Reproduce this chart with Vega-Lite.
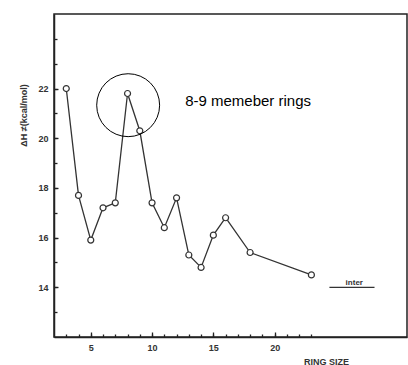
{
  "$schema": "https://vega.github.io/schema/vega-lite/v6.json",
  "width": 353,
  "height": 323,
  "autosize": "none",
  "padding": {"left": 54, "top": 14, "right": 1, "bottom": 28},
  "background": "white",
  "config": {
    "view": {"stroke": "#222", "strokeWidth": 1.5},
    "axis": {"grid": false, "domainColor": "#222", "domainWidth": 1.5, "tickColor": "#222", "tickWidth": 1.3,
      "labelFont": "Liberation Sans", "labelFontWeight": "bold", "labelFontSize": 9, "labelColor": "#333",
      "titleFont": "Liberation Sans", "titleFontWeight": "bold", "titleFontSize": 9, "titleColor": "#333"}
  },
  "resolve": {"axis": {"x": "independent", "y": "independent"}},
  "datasets": {
    "pts": [
      {"ring": 3, "dh": 22.0}, {"ring": 4, "dh": 17.7}, {"ring": 5, "dh": 15.9}, {"ring": 6, "dh": 17.2},
      {"ring": 7, "dh": 17.4}, {"ring": 8, "dh": 21.8}, {"ring": 9, "dh": 20.3}, {"ring": 10, "dh": 17.4},
      {"ring": 11, "dh": 16.4}, {"ring": 12, "dh": 17.6}, {"ring": 13, "dh": 15.3}, {"ring": 14, "dh": 14.8},
      {"ring": 15, "dh": 16.1}, {"ring": 16, "dh": 16.8}, {"ring": 18, "dh": 15.4}, {"ring": 23, "dh": 14.5}
    ]
  },
  "layer": [
    {
      "data": {"name": "pts"},
      "mark": {"type": "line", "color": "#333", "strokeWidth": 1.3},
      "encoding": {
        "x": {"field": "ring", "type": "quantitative", "scale": {"domain": [2, 30.8], "nice": false, "zero": false},
          "axis": {"orient": "bottom", "values": [5, 10, 15, 20], "ticks": false, "labelPadding": 6, "labelOverlap": false,
            "title": "RING SIZE", "titleX": 272, "titleY": 24, "titleBaseline": "middle", "titleAlign": "center"}},
        "y": {"field": "dh", "type": "quantitative", "scale": {"domain": [12, 25], "nice": false, "zero": false},
          "axis": {"orient": "left", "values": [14, 16, 18, 20, 22], "ticks": false, "labelPadding": 6, "labelOverlap": false,
            "title": "ΔH ≠(kcal/mol)", "titleX": -31, "titleY": 101, "titleAngle": -90, "titleBaseline": "middle", "titleAlign": "center"}}
      }
    },
    {
      "data": {"name": "pts"},
      "mark": {"type": "point", "shape": "circle", "filled": true, "fill": "white", "stroke": "#333", "strokeWidth": 1.2, "size": 36, "opacity": 1},
      "encoding": {
        "x": {"field": "ring", "type": "quantitative",
          "axis": {"orient": "top", "offset": -323, "values": [3,4,5,6,7,8,9,10,11,12,13,14,15,16,17,18,19,20,21,22,23], "tickSize": 3, "labels": false, "domain": false, "title": null}},
        "y": {"field": "dh", "type": "quantitative",
          "axis": {"orient": "right", "offset": -353, "values": [13,14,15,16,17,18,19,20,21,22,23,24], "tickSize": 3, "labels": false, "domain": false, "title": null}}
      }
    },
    {
      "data": {"values": [{}]},
      "mark": {"type": "point", "shape": "circle", "filled": false, "stroke": "black", "strokeWidth": 1, "size": 3960, "opacity": 1},
      "encoding": {
        "x": {"datum": 8.05, "type": "quantitative",
          "axis": {"orient": "top", "offset": -323, "values": [5, 10, 15, 20], "tickSize": 5, "labels": false, "domain": false, "title": null}},
        "y": {"datum": 21.33, "type": "quantitative",
          "axis": {"orient": "right", "offset": -353, "values": [14, 16, 18, 20, 22], "tickSize": 4, "labels": false, "domain": false, "title": null}}
      }
    },
    {
      "data": {"values": [{}]},
      "mark": {"type": "text", "text": "8-9 memeber rings", "font": "Liberation Sans", "fontSize": 15, "align": "left", "baseline": "middle", "color": "black"},
      "encoding": {"x": {"datum": 12.7, "type": "quantitative", "axis": null}, "y": {"datum": 21.5, "type": "quantitative", "axis": null}}
    },
    {
      "data": {"values": [{}]},
      "mark": {"type": "rule", "color": "#333", "strokeWidth": 1.3},
      "encoding": {"x": {"datum": 24.47, "type": "quantitative", "axis": null}, "x2": {"datum": 28.15}, "y": {"datum": 14, "type": "quantitative", "axis": null}}
    },
    {
      "data": {"values": [{}]},
      "mark": {"type": "text", "text": "inter", "font": "Liberation Sans", "fontWeight": "bold", "fontSize": 8, "align": "center", "baseline": "alphabetic", "color": "#333", "dy": -2},
      "encoding": {"x": {"datum": 26.5, "type": "quantitative", "axis": null}, "y": {"datum": 14, "type": "quantitative", "axis": null}}
    }
  ]
}
